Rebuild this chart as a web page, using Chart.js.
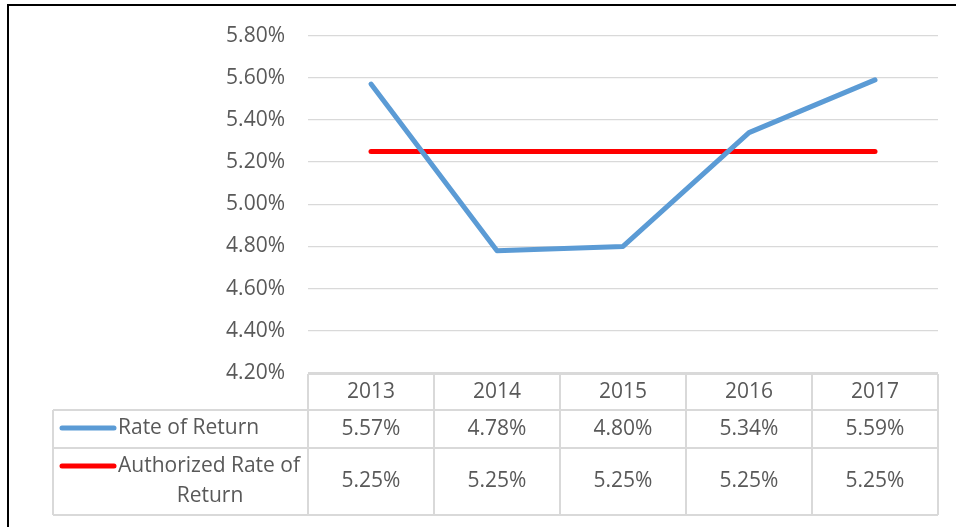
<!DOCTYPE html>
<html>
<head>
<meta charset="utf-8">
<script src="https://cdn.jsdelivr.net/npm/chart.js@4/dist/chart.umd.min.js"></script>
<style>
  body { margin: 0; background: #ffffff; }
  #wrap { width: 956px; height: 527px; }
</style>
</head>
<body>
<div id="wrap"><canvas id="rorChart" width="956" height="527"></canvas></div>
<script>
// data
const years = ['2013', '2014', '2015', '2016', '2017'];
const rateOfReturn = [5.57, 4.78, 4.80, 5.34, 5.59];
const authorizedRate = [5.25, 5.25, 5.25, 5.25, 5.25];
const seriesNames = ['Rate of Return', 'Authorized Rate of Return'];
const yMin = 4.2, yMax = 5.8, yStep = 0.2;

const textColor = '#595959';
const lineColor = '#d9d9d9';
const fontFamily = '"Open Sans", "Noto Sans", sans-serif';
const fontSize = 21;

const pct = v => v.toFixed(2) + '%';

// tabela de dados desenhada abaixo do gráfico
const dataTable = {
  id: 'dataTable',
  afterDraw(chart) {
    const ctx = chart.ctx;
    const x = chart.scales.x;
    const area = chart.chartArea;
    const half = (x.getPixelForValue(1) - x.getPixelForValue(0)) / 2;
    const rows = [area.bottom + 1, 410, 448, 515];
    const legendLeft = 53;

    ctx.save();
    // moldura externa (cortada à direita e embaixo)
    ctx.strokeStyle = '#000000';
    ctx.lineWidth = 2;
    ctx.beginPath();
    ctx.moveTo(8, 527);
    ctx.lineTo(8, 5);
    ctx.lineTo(956, 5);
    ctx.stroke();

    // linhas da tabela
    ctx.strokeStyle = lineColor;
    ctx.lineWidth = 2;
    ctx.beginPath();
    ctx.moveTo(area.left, rows[0]); ctx.lineTo(area.right, rows[0]);
    for (let r = 1; r < rows.length; r++) {
      ctx.moveTo(legendLeft, rows[r]); ctx.lineTo(area.right, rows[r]);
    }
    ctx.moveTo(legendLeft, rows[1]); ctx.lineTo(legendLeft, rows[3]);
    ctx.moveTo(area.left, rows[0]); ctx.lineTo(area.left, rows[3]);
    years.forEach((y, i) => {
      const cx = x.getPixelForValue(i) + half;
      ctx.moveTo(cx, rows[0]); ctx.lineTo(cx, rows[3]);
    });
    ctx.stroke();

    // textos
    ctx.fillStyle = textColor;
    ctx.font = fontSize + 'px ' + fontFamily;
    ctx.textAlign = 'center';
    ctx.textBaseline = 'middle';
    const series = [rateOfReturn, authorizedRate];
    years.forEach((y, i) => {
      const cx = x.getPixelForValue(i);
      ctx.fillText(y, cx, (rows[0] + rows[1]) / 2);
      series.forEach((s, k) => {
        ctx.fillText(pct(s[i]), cx, (rows[k + 1] + rows[k + 2]) / 2);
      });
    });

    // legenda dentro da tabela
    const colors = chart.data.datasets.map(d => d.borderColor);
    ctx.lineCap = 'round';
    ctx.lineWidth = 5;
    ctx.strokeStyle = colors[0];
    ctx.beginPath(); ctx.moveTo(62, 428); ctx.lineTo(114, 428); ctx.stroke();
    ctx.strokeStyle = colors[1];
    ctx.beginPath(); ctx.moveTo(62, 466); ctx.lineTo(114, 466); ctx.stroke();

    ctx.textAlign = 'left';
    ctx.fillText(seriesNames[0], 118, 428);
    ctx.fillText('Authorized Rate of', 118, 466);
    ctx.textAlign = 'center';
    ctx.fillText('Return', 210, 496);
    ctx.restore();
  }
};

const ctx = document.getElementById('rorChart').getContext('2d');
const rorChart = new Chart(ctx, {
  type: 'line',
  data: {
    labels: years,
    datasets: [{
      label: seriesNames[0],
      data: rateOfReturn,
      borderColor: '#5b9bd5',
      borderWidth: 5,
      borderCapStyle: 'round',
      borderJoinStyle: 'round',
      pointRadius: 0,
      tension: 0
    }, {
      label: seriesNames[1],
      data: authorizedRate,
      borderColor: '#ff0000',
      borderWidth: 5,
      borderCapStyle: 'round',
      pointRadius: 0,
      tension: 0
    }]
  },
  options: {
    responsive: false,
    animation: false,
    layout: { padding: { top: 34, right: 18, bottom: 154, left: 0 } },
    plugins: {
      legend: { display: false },
      tooltip: { enabled: false }
    },
    scales: {
      x: {
        display: false,
        offset: true
      },
      y: {
        min: yMin,
        max: yMax,
        afterFit: s => { s.width = 308; },
        border: { display: false },
        grid: { color: lineColor, lineWidth: 1.3, drawTicks: false },
        ticks: {
          stepSize: yStep,
          padding: 23,
          color: textColor,
          font: { family: fontFamily, size: fontSize },
          callback: v => pct(v)
        }
      }
    }
  },
  plugins: [dataTable]
});
</script>
</body>
</html>
